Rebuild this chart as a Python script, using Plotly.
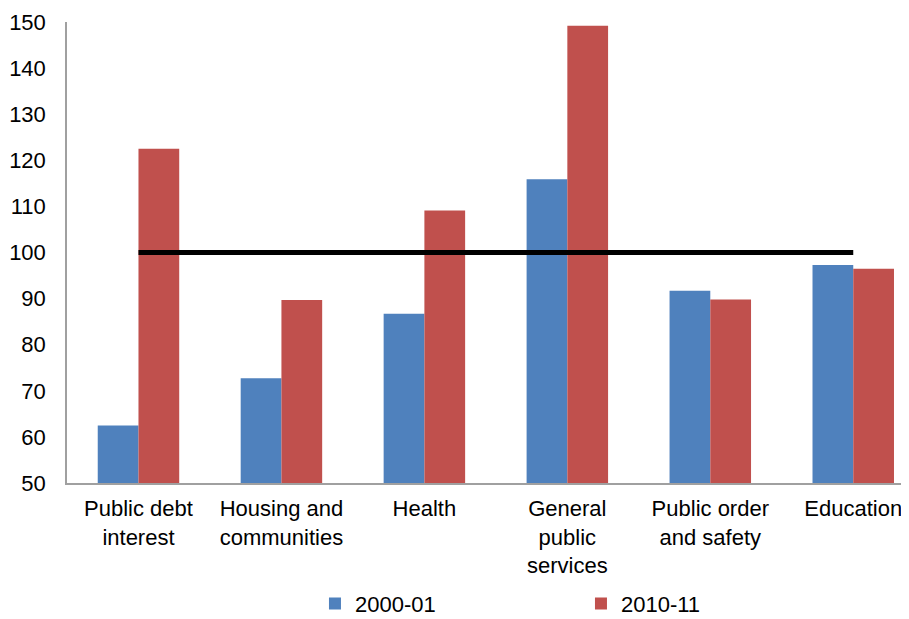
import plotly.graph_objects as go

categories = ["Public debt<br>interest", "Housing and<br>communities", "Health",
              "General<br>public<br>services", "Public order<br>and safety", "Education"]
series_2000 = [62.5, 72.7, 86.7, 115.9, 91.7, 97.3]
series_2010 = [122.5, 89.7, 109.1, 149.2, 89.8, 96.5]
reference = [100, 100, 100, 100, 100, 100]
years = ["2000-01", "2010-11"]
baseline = 50

fig = go.Figure()
fig.add_trace(go.Bar(x=categories, y=[v - baseline for v in series_2000], base=baseline,
                     name=years[0], marker_color="#4F81BD", marker_line_width=0))
fig.add_trace(go.Bar(x=categories, y=[v - baseline for v in series_2010], base=baseline,
                     name=years[1], marker_color="#C0504D", marker_line_width=0))
fig.add_trace(go.Scatter(x=categories, y=reference, mode="lines",
                         line=dict(color="black", width=5), showlegend=False,
                         hoverinfo="skip"))

# page body has an 8px default margin; figure is sized/offset to compensate
fig.update_layout(
    width=901, height=611,
    margin=dict(l=59, r=0, t=14, b=136, autoexpand=False),
    paper_bgcolor="white", plot_bgcolor="white",
    barmode="group", bargap=0.43, bargroupgap=0,
    font=dict(family="Liberation Sans, Arial", size=22, color="black"),
    showlegend=True,
    legend=dict(orientation="h", x=0.2945, xanchor="left", y=-0.262, yanchor="middle",
                font=dict(size=22), entrywidth=221, entrywidthmode="pixels",
                traceorder="normal"),
    xaxis=dict(range=[-0.5, 5.39], showline=True, linecolor="#A0A0A0", linewidth=1.5,
               ticks="", showgrid=False, tickfont=dict(size=22), ticklabelstandoff=5,
               automargin=False),
    yaxis=dict(range=[50, 150], dtick=10, showline=True, linecolor="#A0A0A0",
               linewidth=1.5, showgrid=False, zeroline=False, ticks="",
               ticklabelstandoff=15, tickfont=dict(size=22), automargin=False),
)

fig.write_html("out.html")
